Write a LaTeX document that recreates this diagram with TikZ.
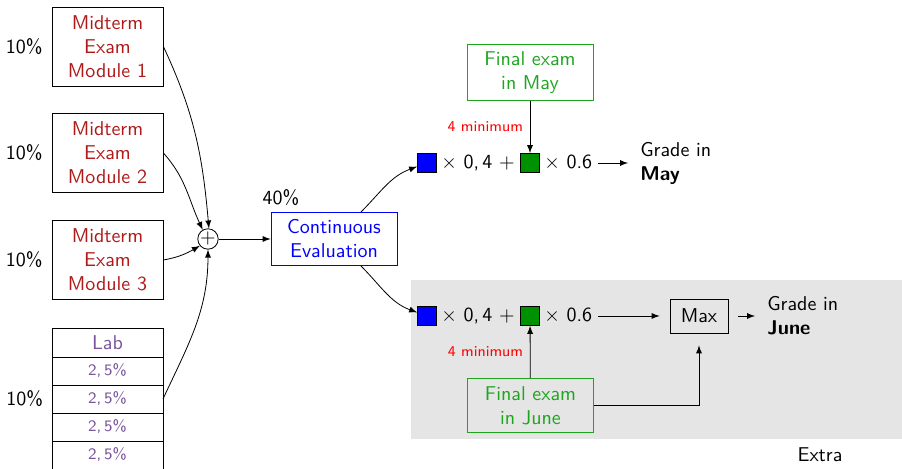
\documentclass[tikz,border=0pt]{standalone}
\usetikzlibrary{positioning}
\definecolor{midred}{RGB}{175,25,25}
\definecolor{labviolet}{RGB}{120,85,155}
\definecolor{finalgreen}{RGB}{30,165,30}
\definecolor{sqgreen}{RGB}{0,145,0}
\begin{document}
\begin{tikzpicture}[x=0.5pt,y=-0.5pt,>=latex,font=\sffamily,
    midbox/.style={draw,align=center,text=midred,minimum width=55.5pt,minimum height=39.5pt},
    labrow/.style={draw,outer sep=0pt,inner sep=0pt,text=labviolet,minimum width=55.5pt,minimum height=14pt},
    finbox/.style={draw=finalgreen,text=finalgreen,align=center,minimum width=63pt,minimum height=27pt},
    sq/.style={draw,minimum size=9.5pt,inner sep=0pt},
    minlab/.style={text=red,font=\sffamily\fontsize{7.5}{9}\selectfont},
    grade/.style={align=left,anchor=west,inner xsep=6pt}]
        \useasboundingbox (0,0) rectangle (902,469);
        % extra part
        \fill[black!10] (411,280) rectangle (902,439);
        \node (extra) at (820,455) {Extra};
        % continuous evaluation
        \node[midbox] (mid1) at (107.5,46.5) {Midterm\\Exam\\Module 1};
        \node[midbox] (mid2) at (107.5,153) {Midterm\\Exam\\Module 2};
        \node[midbox] (mid3) at (107.5,260) {Midterm\\Exam\\Module 3};
        \node[labrow,minimum height=14.5pt] (lab) at (107.5,342.5) {Lab};
        \node[labrow,below=0pt of lab,font=\sffamily\footnotesize] (lab1) {2,\,5\%};
        \node[labrow,below=0pt of lab1,font=\sffamily\footnotesize] (lab2) {2,\,5\%};
        \node[labrow,below=0pt of lab2,font=\sffamily\footnotesize] (lab3) {2,\,5\%};
        \node[labrow,below=0pt of lab3,font=\sffamily\footnotesize] (lab4) {2,\,5\%};
        \node[left=1pt of mid1] (pct1) {10\%};
        \node[left=1pt of mid2] (pct2) {10\%};
        \node[left=1pt of mid3] (pct3) {10\%};
        \node[left=1pt of lab2] (pct4) {10\%};
        \node[draw,circle,inner sep=0pt,minimum size=10pt] (sum) at (208,239) {$+$};
        \draw[->] (mid1.east) to[out=-65,in=95] (sum.85);
        \draw[->] (mid2.east) to[out=-48,in=115] (sum.120);
        \draw[->] (mid3.east) to[out=10,in=210] (sum.220);
        \draw[->] (lab2.east) to[out=65,in=-90] (sum.south);
        \node[draw=blue,text=blue,align=center,minimum width=63pt,minimum height=26.5pt] (ce) at (334,239) {Continuous\\Evaluation};
        \node (pct5) at (281,198) {40\%};
        \draw[->] (sum) -- (ce);
        % grade in May
        \node[sq,fill=blue] (bsqMay) at (427,163) {};
        \node[right=2pt of bsqMay,inner sep=0pt] (wMay) {$\times$ 0,\,4 $+$};
        \node[sq,fill=sqgreen] (gsqMay) at (530,163) {};
        \node[right=2pt of gsqMay,inner sep=0pt] (fMay) {$\times$ 0.6};
        \node[grade] (gradeMay) at (628,163) {Grade in\\\textbf{May}};
        \node[finbox] (finMay) at (530,72.5) {Final exam\\in May};
        \draw[->] (ce) to[out=45,in=200] (bsqMay);
        \draw[->] (finMay) -- node[minlab,left] {4 minimum} (gsqMay);
        \draw[->,shorten <=3pt] (fMay) -- (gradeMay);
        % grade in June
        \node[sq,fill=blue] (bsqJune) at (427,316) {};
        \node[right=2pt of bsqJune,inner sep=0pt] (wJune) {$\times$ 0,\,4 $+$};
        \node[sq,fill=sqgreen] (gsqJune) at (530,316) {};
        \node[right=2pt of gsqJune,inner sep=0pt] (fJune) {$\times$ 0.6};
        \node[draw,minimum width=29pt,minimum height=17pt] (maxJune) at (699,316) {Max};
        \node[grade] (gradeJune) at (755,316) {Grade in\\\textbf{June}};
        \node[finbox] (finJune) at (530.5,405.5) {Final exam\\in June};
        \draw[->] (ce) to[out=-45,in=160] (bsqJune);
        \draw[->] (finJune) -- node[minlab,left] {4 minimum} (gsqJune);
        \draw[->,shorten <=3pt,shorten >=5pt] (fJune) -- (maxJune);
        \draw[->,shorten <=5pt] (maxJune) -- (gradeJune);
        \draw[->,shorten >=6pt] (finJune) -| (maxJune);
\end{tikzpicture}
\end{document}
